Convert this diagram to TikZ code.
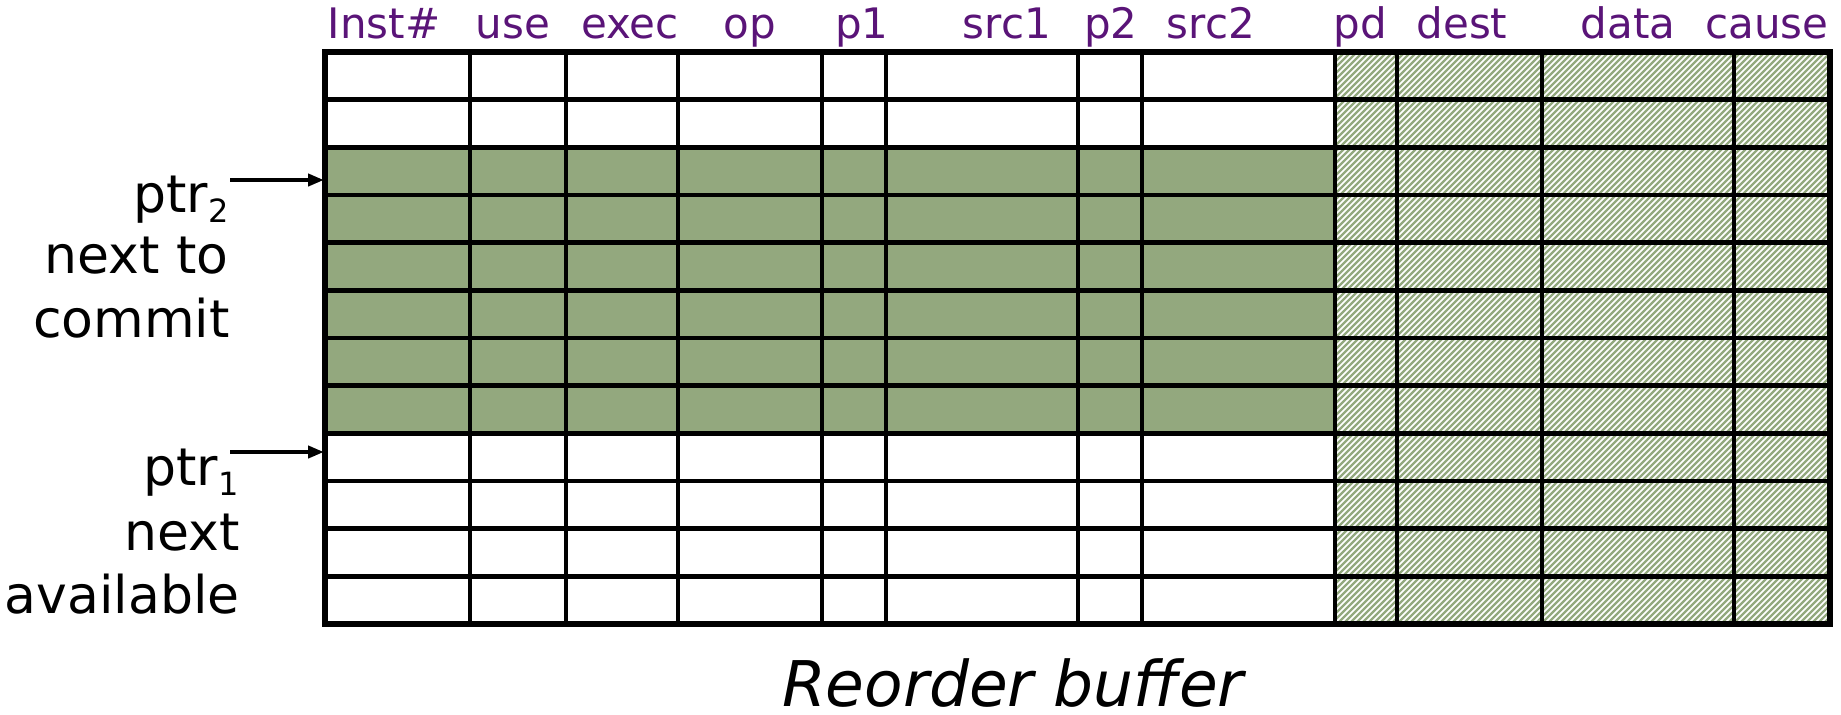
\documentclass[tikz,border=0pt]{standalone}
\usepackage{fontspec}
\setmainfont{DejaVu Sans}
\usetikzlibrary{arrows.meta}
\definecolor{rowgreen}{RGB}{147,168,126}
\definecolor{hdrpurple}{RGB}{90,20,120}
\tikzset{
  hdr/.style={anchor=base, inner sep=0pt, text=hdrpurple, font=\fontsize{21}{25}\selectfont},
  sidelbl/.style={anchor=base east, inner sep=0pt, font=\fontsize{26}{31}\selectfont},
  gridline/.style={line width=2.3pt, black},
  hatchline/.style={line width=1.1pt, rowgreen},
  ptrarrow/.style={line width=2pt, -{Triangle[length=8pt,width=6pt]}},
}
\newcommand{\subn}[1]{\raisebox{-5pt}{\fontsize{16}{19}\selectfont #1}}
\begin{document}
\begin{tikzpicture}[x=0.5pt,y=-0.5pt]
\useasboundingbox (0,0) rectangle (1841,714);
\def\rh{47.67}
% fills
\fill[rowgreen] (325,{52+2*\rh}) rectangle (1335,{52+8*\rh});
\fill[white] (1335,52) rectangle (1830,{52+12*\rh});
\begin{scope}
  \clip (1335,52) rectangle (1830,{52+12*\rh});
  \foreach \x in {755,761,...,1835} \draw[hatchline] (\x,630) -- ({\x+584},46);
\end{scope}
% grid
\foreach \i in {1,...,11} \draw[gridline] (325,{52+\i*\rh}) -- (1830,{52+\i*\rh});
\foreach \x in {470,566,678,822,886,1078,1142,1335,1397,1542,1734} \draw[gridline] (\x,52) -- (\x,{52+12*\rh});
\draw[line width=2.8pt] (325,52) rectangle (1830,{52+12*\rh});
% headers
\node[hdr] (hInst) at (384,38) {Inst\#};
\node[hdr] (hUse) at (513,38) {use};
\node[hdr] (hExec) at (630,38) {exec};
\node[hdr] (hOp) at (750,38) {op};
\node[hdr] (hP1) at (862,38) {p1};
\node[hdr] (hSrc1) at (1007,38) {src1};
\node[hdr] (hP2) at (1111,38) {p2};
\node[hdr] (hSrc2) at (1211,38) {src2};
\node[hdr] (hPd) at (1360,38) {pd};
\node[hdr] (hDest) at (1462,38) {dest};
\node[hdr] (hData) at (1628,38) {data};
\node[hdr] (hCause) at (1767,38) {cause};
% left labels
\node[sidelbl] (ptrtwo) at (229,212) {ptr\subn{2}};
\node[sidelbl] (nextto) at (229,273) {next to};
\node[sidelbl] (commit) at (230,337) {commit};
\node[sidelbl] (ptrone) at (239,485) {ptr\subn{1}};
\node[sidelbl] (nextav) at (240,550) {next};
\node[sidelbl] (avail) at (240,613) {available};
% arrows
\coordinate (a2s) at (230,180);
\coordinate (a2e) at (324,180);
\coordinate (a1s) at (230,452);
\coordinate (a1e) at (324,452);
\draw[ptrarrow] (a2s) -- (a2e);
\draw[ptrarrow] (a1s) -- (a1e);
% caption
\node[anchor=base, inner sep=0pt, font=\itshape\fontsize{31.5}{37}\selectfont] (caption) at (1013,706) {Reorder buffer};
\end{tikzpicture}
\end{document}
